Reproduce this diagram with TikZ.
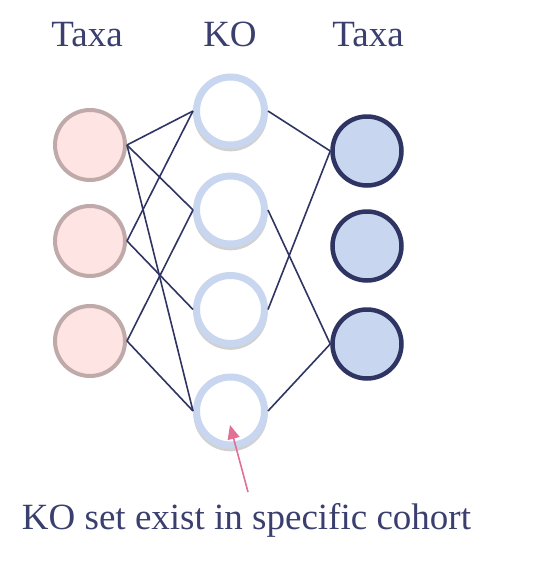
\documentclass[tikz,border=0pt]{standalone}
\usepackage{fontspec}
\setmainfont{Liberation Serif}
\usetikzlibrary{shadows,arrows.meta}
\definecolor{navy}{HTML}{2F3563}
\definecolor{txtc}{HTML}{3A3F6E}
\definecolor{pinkfill}{HTML}{FFE4E4}
\definecolor{pinkline}{HTML}{BFA9A9}
\definecolor{lblue}{HTML}{C8D6F0}
\definecolor{arrowc}{HTML}{E07094}
\tikzset{
  taxaL/.style={circle, draw=pinkline, fill=pinkfill, line width=4pt, minimum size=70pt, inner sep=0pt},
  konode/.style={circle, draw=lblue, fill=white, line width=7pt, minimum size=68pt, inner sep=0pt,
    general shadow={fill=black, opacity=0.18, shadow xshift=0pt, shadow yshift=-3pt, shadow scale=1.09}},
  taxaR/.style={circle, draw=navy, fill=lblue, line width=4.5pt, minimum size=69pt, inner sep=0pt},
  link/.style={draw=navy, line width=1.6pt},
  lbl/.style={text=txtc, font=\fontsize{37}{40}\selectfont, inner sep=0pt, anchor=base},
}
\begin{document}
\begin{tikzpicture}[x=1pt,y=-1pt]
\useasboundingbox (0,0) rectangle (549,563);
\node[lbl] (t1) at (87,46.7) {Taxa};
\node[lbl] (t2) at (230,46.7) {KO};
\node[lbl] (t3) at (368,46.7) {Taxa};

\node[taxaL] (l1) at (90,145) {};
\node[taxaL] (l2) at (90,241) {};
\node[taxaL] (l3) at (90,341) {};

\node[konode] (k1) at (230.5,111) {};
\node[konode] (k2) at (230.5,210) {};
\node[konode] (k3) at (230.5,309.5) {};
\node[konode] (k4) at (230.5,411) {};

\node[taxaR] (r1) at (367,151) {};
\node[taxaR] (r2) at (367,246) {};
\node[taxaR] (r3) at (367,344) {};

\draw[link] (l1.east) -- (k1.west);
\draw[link] (l1.east) -- (k2.west);
\draw[link] (l1.east) -- (k4.west);
\draw[link] (l2.east) -- (k1.west);
\draw[link] (l2.east) -- (k3.west);
\draw[link] (l3.east) -- (k2.west);
\draw[link] (l3.east) -- (k4.west);

\draw[link] (k1.east) -- (r1.west);
\draw[link] (k2.east) -- (r3.west);
\draw[link] (k3.east) -- (r1.west);
\draw[link] (k4.east) -- (r3.west);

\coordinate (atail) at (248,492);
\coordinate (ahead) at (230,425);
\draw[draw=arrowc, line width=1.6pt, -{Triangle[length=14pt,width=12pt]}] (atail) -- (ahead);

\node[lbl] (cap) at (246.5,529) {KO set exist in specific cohort};
\end{tikzpicture}
\end{document}
